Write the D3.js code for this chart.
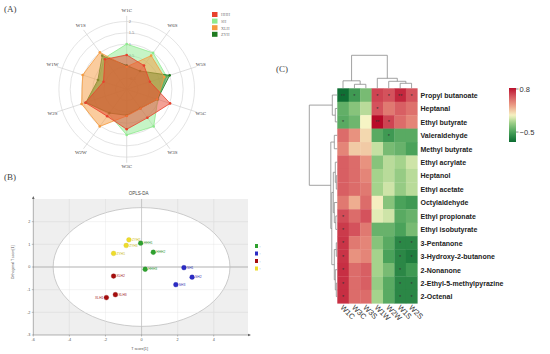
<!DOCTYPE html>
<html><head><meta charset="utf-8">
<script src="https://cdn.jsdelivr.net/npm/d3@7"></script>
<style>body{margin:0;background:#fff}svg{display:block}</style>
</head><body>
<script>
// ---------- (A) radar data ----------
const radarAxes = ["W1C","W6S","W5S","W5C","W3S","W3C","W2W","W2S","W1W","W1S"];
const radarGroups = ["HHH","SH","XLH","ZYH"];
const radarHHH = [0.52,0.30,0.08,1.02,0.56,0.77,0.47,0.92,0.08,0.64];
const radarSH  = [1.00,0.99,0.85,0.45,1.03,1.02,0.35,0.85,0.30,0.70];
const radarXLH = [0.00,0.84,0.75,0.42,0.05,0.18,1.03,1.10,1.05,1.02];
const radarZYH = [0.05,0.00,1.00,0.43,0.03,0.15,0.30,0.90,0.34,0.84];
const radarTicks = [-0.5,0,0.5,1,1.5,2];

// ---------- (B) OPLS-DA data ----------
const oplsGroups = ["HHH","SH","XLH","ZYH"];
const oplsLabels = ["HHH1","HHH2","HHH3","SH1","SH2","SH3","XLH1","XLH2","XLH3","ZYH1","ZYH2","ZYH3"];
const oplsGroupOf = ["HHH","HHH","HHH","SH","SH","SH","XLH","XLH","XLH","ZYH","ZYH","ZYH"];
const oplsT1  = [-0.05,0.65,0.20, 2.35,2.80,1.90, -1.95,-1.55,-1.45, -1.55,-0.70,-0.85];
const oplsTo1 = [ 1.05,0.65,-0.10, -0.03,-0.45,-0.78, -1.35,-0.40,-1.22, 0.60,1.20,0.95];
const oplsXTicks = [-6,-4,-2,0,2,4];
const oplsYTicks = [-3,-2,-1,0,1,2];

// ---------- (C) heatmap data ----------
const hmCols = ["W1C","W3C","W3S","W1W","W2W","W1S","W2S"];
const hmRows = ["Propyl butanoate","Heptanal","Ethyl butyrate","Valeraldehyde","Methyl butyrate","Ethyl acrylate","Heptanol","Ethyl acetate","Octylaldehyde","Ethyl propionate","Ethyl isobutyrate","3-Pentanone","3-Hydroxy-2-butanone","2-Nonanone","2-Ethyl-5-methylpyrazine","2-Octenal"];
const hmValues = [
 [-0.78,-0.55,-0.35, 0.65, 0.60, 0.75, 0.60],
 [-0.42,-0.30,-0.15, 0.60, 0.45, 0.55, 0.48],
 [-0.45,-0.38, 0.00, 0.85, 0.65, 0.50, 0.40],
 [ 0.50, 0.35, 0.10,-0.45,-0.55,-0.45,-0.45],
 [ 0.40, 0.15, 0.15,-0.12,-0.35,-0.40,-0.50],
 [ 0.55, 0.50, 0.35,-0.30,-0.15,-0.20,-0.10],
 [ 0.55, 0.50, 0.40,-0.20,-0.15,-0.25,-0.15],
 [ 0.55, 0.50, 0.45,-0.20,-0.10,-0.25,-0.15],
 [ 0.45, 0.25, 0.50, 0.02,-0.30,-0.50,-0.55],
 [ 0.62, 0.50, 0.60,-0.05,-0.10,-0.45,-0.40],
 [ 0.68, 0.60, 0.45,-0.40,-0.40,-0.50,-0.35],
 [ 0.70, 0.45, 0.40,-0.30,-0.45,-0.65,-0.65],
 [ 0.70, 0.35, 0.40,-0.20,-0.50,-0.65,-0.70],
 [ 0.72, 0.50, 0.55,-0.20,-0.35,-0.65,-0.55],
 [ 0.72, 0.50, 0.55,-0.25,-0.45,-0.65,-0.65],
 [ 0.72, 0.50, 0.50,-0.20,-0.45,-0.65,-0.65]
];
const hmStars = [
 ["**","*","","*","*","**","*"],
 ["","","","*","","",""],
 ["*","","","**","*","",""],
 ["","","","","*","",""],
 ["","","","","","",""],
 ["","","","","","",""],
 ["","","","","","",""],
 ["","","","","","",""],
 ["","","","","","",""],
 ["*","","","","","",""],
 ["*","","","","","",""],
 ["*","","","","","*","*"],
 ["*","","","","","*","*"],
 ["*","","","","","*",""],
 ["*","","","","","*","*"],
 ["*","","","","","*","*"]
];
const legendTicks = [0.8,-0.5];
// dendrograms: leaves are row/col indices, h = merge height
const colTree = {h:33,c:[{h:7.5,c:[0,{h:4,c:[1,2]}]},{h:10,c:[3,{h:7,c:[4,{h:5,c:[5,6]}]}]}]};
const rowTree = {h:28,c:[{h:5,c:[0,{h:2,c:[1,2]}]},{h:6.5,c:[{h:3,c:[3,4]},{h:5.5,c:[{h:4,c:[{h:2,c:[5,{h:1,c:[6,7]}]},{h:3,c:[8,{h:1.5,c:[9,10]}]}]},{h:3,c:[{h:1,c:[11,12]},{h:2,c:[13,{h:1,c:[14,15]}]}]}]}]}]};

const W=550,H=354;
const svg = d3.select("body").append("svg").attr("width",W).attr("height",H).style("background","#fff");
const serif = "'Liberation Serif','DejaVu Serif',serif";
const sans = "'Liberation Sans',Arial,sans-serif";

// panel letters
svg.append("text").attr("x",4).attr("y",12).text("(A)").attr("font-family",serif).attr("font-size",9).attr("fill","#444");
svg.append("text").attr("x",4).attr("y",180).text("(B)").attr("font-family",serif).attr("font-size",9).attr("fill","#444");
svg.append("text").attr("x",276).attr("y",72).text("(C)").attr("font-family",serif).attr("font-size",9).attr("fill","#444");

// ================= (A) Radar =================
(function(){
  const cx=126.7, cy=89.3;
  const r = d3.scaleLinear().domain([-1,2]).range([0,67.8]);
  const g = svg.append("g");
  const ang = d3.scalePoint().domain(radarAxes).range([0, 2*Math.PI*(radarAxes.length-1)/radarAxes.length]);
  const pt = (a,v)=>[cx+Math.sin(ang(a))*r(v), cy-Math.cos(ang(a))*r(v)];
  radarTicks.forEach(t=>{
    g.append("circle").attr("cx",cx).attr("cy",cy).attr("r",r(t)).attr("fill","none").attr("stroke","#d8d8d8").attr("stroke-width",0.7);
  });
  radarAxes.forEach(a=>{
    const p = pt(a,2.25);
    g.append("line").attr("x1",cx).attr("y1",cy).attr("x2",p[0]).attr("y2",p[1]).attr("stroke","#d0d0d0").attr("stroke-width",0.7);
    const q = pt(a,2.45);
    g.append("text").attr("x",q[0]).attr("y",q[1]).text(a).attr("text-anchor","middle").attr("dominant-baseline","middle")
      .attr("font-family",serif).attr("font-size",5).attr("fill","#444");
  });
  radarTicks.forEach(t=>{
    g.append("text").attr("x",cx+2).attr("y",cy-r(t)+1.5).text(t).attr("font-family",serif).attr("font-size",4.5).attr("fill","#777");
  });
  const colors = {HHH:"#e8412c",SH:"#8eea8e",XLH:"#f59a3e",ZYH:"#1f7a1f"};
  const series = {HHH:radarHHH,SH:radarSH,XLH:radarXLH,ZYH:radarZYH};
  const line = d3.line().curve(d3.curveLinearClosed);
  ["SH","ZYH","XLH","HHH"].forEach(k=>{
    const pts = radarAxes.map((a,i)=>pt(a,series[k][i]));
    g.append("path").attr("d",line(pts)).attr("fill",colors[k]).attr("fill-opacity",0.5).attr("stroke",colors[k]).attr("stroke-width",0.8);
    pts.forEach(p=>g.append("circle").attr("cx",p[0]).attr("cy",p[1]).attr("r",1.3).attr("fill",colors[k]));
  });
  radarGroups.forEach((k,i)=>{
    g.append("rect").attr("x",212).attr("y",12+i*6.6).attr("width",5.5).attr("height",5).attr("fill",colors[k]);
    g.append("text").attr("x",221).attr("y",16.3+i*6.6).text(k).attr("font-family",serif).attr("font-size",4.2).attr("fill","#777");
  });
})();

// ================= (B) OPLS-DA =================
(function(){
  const x = d3.scaleLinear().domain([-6,5.9]).range([33.3,248]);
  const y = d3.scaleLinear().domain([-3,3]).range([335,199]);
  const g = svg.append("g");
  g.append("rect").attr("x",x(-6)).attr("y",y(3)).attr("width",x(5.9)-x(-6)).attr("height",y(-3)-y(3)).attr("fill","#efefef");
  oplsXTicks.forEach(t=>{ if(t>-6) g.append("line").attr("x1",x(t)).attr("x2",x(t)).attr("y1",y(3)).attr("y2",y(-3)).attr("stroke","#dcdcdc").attr("stroke-width",0.5);});
  oplsYTicks.forEach(t=>{ if(t>-3) g.append("line").attr("x1",x(-6)).attr("x2",x(5.9)).attr("y1",y(t)).attr("y2",y(t)).attr("stroke","#dcdcdc").attr("stroke-width",0.5);});
  g.append("ellipse").attr("cx",x(0)).attr("cy",y(0)).attr("rx",x(4.9)-x(0)).attr("ry",y(0)-y(2.62))
    .attr("fill","#fff").attr("stroke","#b8b8b8").attr("stroke-width",0.7);
  oplsXTicks.forEach(t=>{ if(t>-6) g.append("line").attr("x1",x(t)).attr("x2",x(t)).attr("y1",y(3)).attr("y2",y(-3)).attr("stroke","#e4e4e4").attr("stroke-width",0.4);});
  oplsYTicks.forEach(t=>{ if(t>-3) g.append("line").attr("x1",x(-6)).attr("x2",x(5.9)).attr("y1",y(t)).attr("y2",y(t)).attr("stroke","#e4e4e4").attr("stroke-width",0.4);});
  g.append("line").attr("x1",x(-6)).attr("x2",x(5.9)).attr("y1",y(0)).attr("y2",y(0)).attr("stroke","#b5b5b5").attr("stroke-width",1.2);
  g.append("line").attr("x1",x(0)).attr("x2",x(0)).attr("y1",y(3)).attr("y2",y(-3)).attr("stroke","#b5b5b5").attr("stroke-width",0.6);
  // axes
  g.append("line").attr("x1",x(-6)).attr("x2",x(5.9)+2).attr("y1",y(-3)).attr("y2",y(-3)).attr("stroke","#666").attr("stroke-width",0.5);
  g.append("line").attr("x1",x(-6)).attr("x2",x(-6)).attr("y1",y(3)-2).attr("y2",y(-3)).attr("stroke","#666").attr("stroke-width",0.5);
  g.append("path").attr("d",`M${x(5.9)+3},${y(-3)} l-3,-1.3 l0,2.6 z`).attr("fill","#666");
  g.append("path").attr("d",`M${x(-6)},${y(3)-3} l-1.3,3 l2.6,0 z`).attr("fill","#666");
  oplsXTicks.forEach(t=>{
    g.append("line").attr("x1",x(t)).attr("x2",x(t)).attr("y1",y(-3)).attr("y2",y(-3)+1.5).attr("stroke","#666").attr("stroke-width",0.4);
    g.append("text").attr("x",x(t)).attr("y",y(-3)+5.5).text(t).attr("text-anchor","middle").attr("font-family",sans).attr("font-size",3.8).attr("fill","#555");
  });
  oplsYTicks.forEach(t=>{
    g.append("line").attr("x1",x(-6)-1.5).attr("x2",x(-6)).attr("y1",y(t)).attr("y2",y(t)).attr("stroke","#666").attr("stroke-width",0.4);
    g.append("text").attr("x",x(-6)-3).attr("y",y(t)+1.3).text(t).attr("text-anchor","end").attr("font-family",sans).attr("font-size",3.8).attr("fill","#555");
  });
  g.append("text").attr("x",x(0)-3).attr("y",195).text("OPLS-DA").attr("text-anchor","middle").attr("font-family",sans).attr("font-size",4.5).attr("fill","#444");
  g.append("text").attr("x",x(0)-2).attr("y",350).text("T score[1]").attr("text-anchor","middle").attr("font-family",sans).attr("font-size",3.8).attr("fill","#555");
  g.append("text").attr("transform",`translate(14,${y(0.2)}) rotate(-90)`).text("Orthogonal T score[1]").attr("text-anchor","middle").attr("font-family",sans).attr("font-size",3.5).attr("fill","#555");
  const col = {HHH:"#2ea12e",SH:"#2b2bc4",XLH:"#a50d0d",ZYH:"#eedc2a"};
  const lcol = {HHH:"#3a9a3a",SH:"#3434b0",XLH:"#a02020",ZYH:"#c8b820"};
  oplsLabels.forEach((lab,i)=>{
    const gr = oplsGroupOf[i];
    const px=x(oplsT1[i]), py=y(oplsTo1[i]);
    g.append("circle").attr("cx",px).attr("cy",py).attr("r",2.4).attr("fill",col[gr]).attr("stroke",d3.color(col[gr]).darker(0.4)).attr("stroke-width",0.3);
    const left = (lab==="XLH1");
    g.append("text").attr("x",left?px-3:px+3).attr("y",py+1.2).text(lab).attr("text-anchor",left?"end":"start")
      .attr("font-family",sans).attr("font-size",3.3).attr("fill",lcol[gr]);
  });
  // legend (partly visible)
  oplsGroups.forEach((k,i)=>{
    g.append("rect").attr("x",255).attr("y",244+i*7.5).attr("width",3).attr("height",4).attr("fill",col[k]);
    g.append("text").attr("x",259.5).attr("y",247.5+i*7.5).text(":").attr("font-family",sans).attr("font-size",4).attr("fill","#666");
  });
})();

// ================= (C) Heatmap =================
(function(){
  const x = d3.scaleBand().domain(hmCols).range([337.3,417.3]);
  const y = d3.scaleBand().domain(hmRows).range([88.3,303.3]);
  const color = d3.scaleLinear()
    .domain([-0.8,-0.5,-0.2,0,0.3,0.6,0.85])
    .range(["#0b6b31","#4aa25a","#a5d38c","#f6f4c4","#ec9f86","#d4525c","#b80a28"])
    .clamp(true);
  const g = svg.append("g");
  hmRows.forEach((rn,i)=>{
    hmCols.forEach((cn,j)=>{
      g.append("rect").attr("x",x(cn)).attr("y",y(rn)).attr("width",x.bandwidth()+0.3).attr("height",y.bandwidth()+0.3).attr("fill",color(hmValues[i][j]));
      if(hmStars[i][j]) g.append("text").attr("x",x(cn)+x.bandwidth()/2).attr("y",y(rn)+y.bandwidth()/2+2.6).text(hmStars[i][j])
        .attr("text-anchor","middle").attr("font-family",sans).attr("font-size",5.5).attr("fill","#333");
    });
    g.append("text").attr("transform",`translate(420.5,${y(rn)+y.bandwidth()/2+2.8}) scale(0.9,1)`).text(rn)
      .attr("font-family",sans).attr("font-weight","bold").attr("font-size",7.8).attr("fill","#222");
  });
  hmCols.forEach(cn=>{
    g.append("text").attr("transform",`translate(${x(cn)+x.bandwidth()/2-3},${308}) rotate(45)`).text(cn)
      .attr("font-family",sans).attr("font-size",7.5).attr("fill","#333");
  });
  // dendrograms
  const stroke="#8a8a8a";
  function drawTree(node, leafPos, hPos, vertical){
    if(typeof node==="number") return {p:leafPos(node), h:0};
    const kids = node.c.map(k=>drawTree(k,leafPos,hPos,vertical));
    const p = d3.mean(kids,k=>k.p);
    kids.forEach(k=>{
      if(vertical) g.append("line").attr("x1",k.p).attr("x2",k.p).attr("y1",hPos(k.h)).attr("y2",hPos(node.h)).attr("stroke",stroke).attr("stroke-width",0.8);
      else g.append("line").attr("y1",k.p).attr("y2",k.p).attr("x1",hPos(k.h)).attr("x2",hPos(node.h)).attr("stroke",stroke).attr("stroke-width",0.8);
    });
    const lo=d3.min(kids,k=>k.p), hi=d3.max(kids,k=>k.p);
    if(vertical) g.append("line").attr("x1",lo).attr("x2",hi).attr("y1",hPos(node.h)).attr("y2",hPos(node.h)).attr("stroke",stroke).attr("stroke-width",0.8);
    else g.append("line").attr("y1",lo).attr("y2",hi).attr("x1",hPos(node.h)).attr("x2",hPos(node.h)).attr("stroke",stroke).attr("stroke-width",0.8);
    return {p, h:node.h};
  }
  const colH = d3.scaleLinear().domain([0,33]).range([88.3,55.3]);
  drawTree(colTree, i=>x(hmCols[i])+x.bandwidth()/2, colH, true);
  const rowH = d3.scaleLinear().domain([0,28]).range([337.3,309.3]);
  drawTree(rowTree, i=>y(hmRows[i])+y.bandwidth()/2, rowH, false);
  // color legend
  const ly = d3.scaleLinear().domain([0.83,-0.8]).range([88,142]);
  const defs = svg.append("defs");
  const grad = defs.append("linearGradient").attr("id","hmgrad").attr("x1",0).attr("y1",0).attr("x2",0).attr("y2",1);
  d3.range(0,1.0001,0.05).forEach(f=>{
    const v = 0.83 - f*(0.83+0.8);
    grad.append("stop").attr("offset",f).attr("stop-color",color(v));
  });
  g.append("rect").attr("x",509).attr("y",ly(0.83)).attr("width",7).attr("height",ly(-0.8)-ly(0.83)).attr("fill","url(#hmgrad)");
  legendTicks.forEach(t=>{
    g.append("line").attr("x1",516).attr("x2",518.5).attr("y1",ly(t)).attr("y2",ly(t)).attr("stroke","#444").attr("stroke-width",0.6);
    g.append("text").attr("x",519.5).attr("y",ly(t)+2.6).text(d3.format("")(t).replace("-","\u2212")).attr("font-family",sans).attr("font-size",7.5).attr("fill","#333");
  });
})();
</script>
</body></html>
